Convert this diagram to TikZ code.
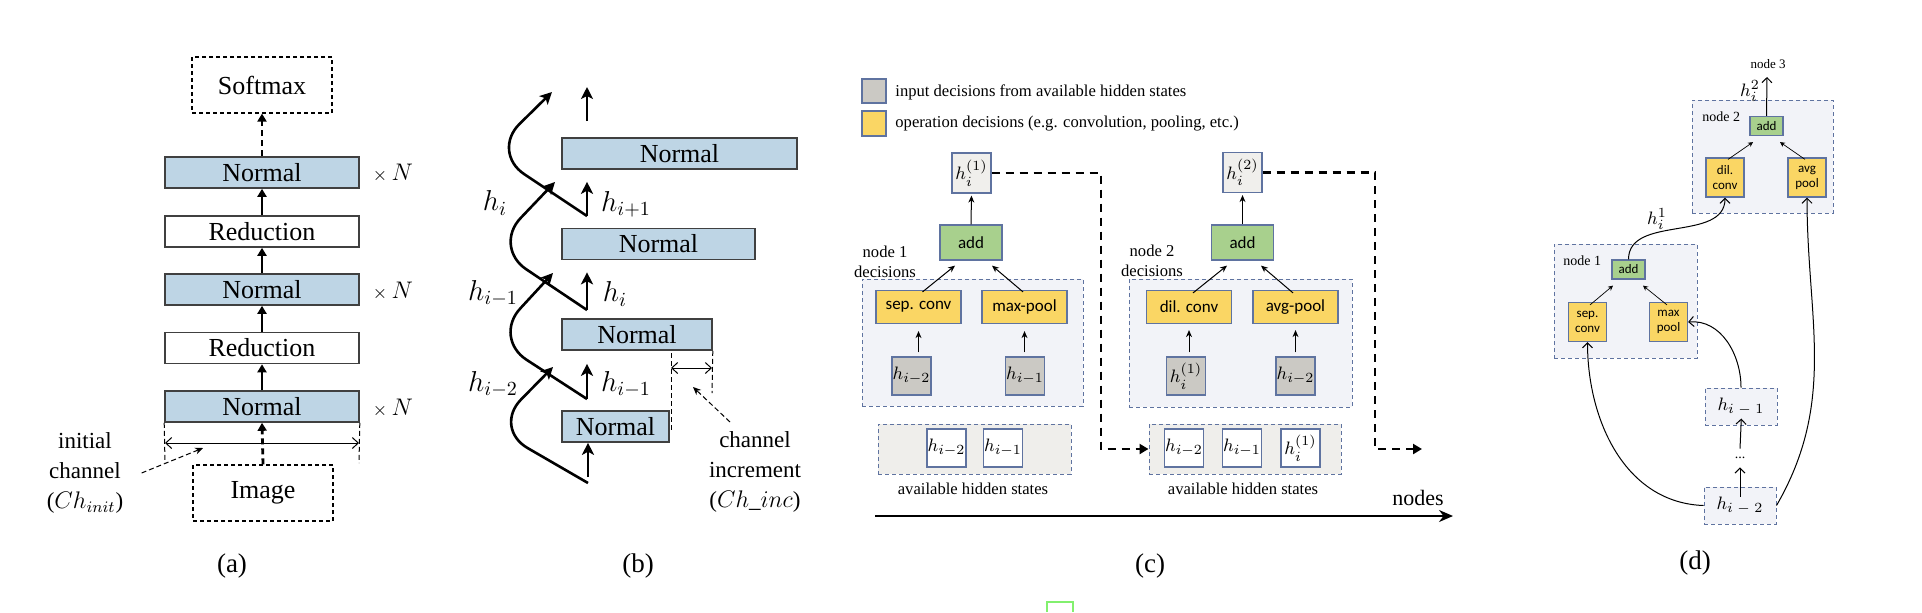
\documentclass[tikz,border=0pt]{standalone}
\usepackage{fontspec}
\setmainfont{Liberation Serif}
\newfontfamily\calib{Carlito}
\usetikzlibrary{arrows.meta}
\definecolor{normblue}{RGB}{190,213,229}
\definecolor{boxdark}{RGB}{64,64,64}
\definecolor{ylw}{RGB}{250,214,100}
\definecolor{grn}{RGB}{168,208,141}
\definecolor{gry}{RGB}{203,201,196}
\definecolor{bord}{RGB}{95,115,160}
\definecolor{panelc}{RGB}{242,243,248}
\definecolor{availc}{RGB}{239,238,235}
\definecolor{hboxc}{RGB}{240,239,236}
\definecolor{artgreen}{RGB}{130,240,110}
\begin{document}
\begin{tikzpicture}[x=0.5pt,y=-0.5pt,
  abox/.style={draw=boxdark, line width=0.8pt, inner sep=0pt, font=\fontsize{13}{15}\selectfont},
  normal/.style={abox, fill=normblue},
  reduc/.style={abox, fill=white},
  adash/.style={draw=black, line width=0.6pt, dash pattern=on 2pt off 1.5pt, inner sep=0pt, font=\fontsize{13}{15}\selectfont, minimum width=70pt, minimum height=28pt},
  tarr/.style={line width=1.4pt, -{Triangle[length=4pt,width=4.5pt]}},
  tdarr/.style={tarr, dash pattern=on 3pt off 2pt},
  dimarr/.style={line width=0.5pt, {Straight Barb[length=3pt,width=5.5pt]}-{Straight Barb[length=3pt,width=5.5pt]}},
  thdash/.style={line width=0.5pt, dash pattern=on 2.5pt off 1.5pt},
  smdasharr/.style={thdash, -{Stealth[length=4pt,width=3.5pt]}},
  side/.style={align=center, inner sep=0pt, font=\fontsize{11.5}{15}\selectfont},
  mathb/.style={inner sep=0pt, font=\fontsize{14}{16}\selectfont},
  bcurve/.style={line width=1.3pt, rounded corners=20pt, -{Stealth[length=6pt,width=6pt,inset=1.5pt]}},
  barr/.style={line width=1.3pt, -{Stealth[length=6pt,width=6pt,inset=1.5pt]}},
  cpanel/.style={draw=bord, fill=panelc, line width=0.5pt, dash pattern=on 2pt off 1.5pt, inner sep=0pt},
  cavail/.style={cpanel, fill=availc},
  cy/.style={draw=bord, fill=ylw, line width=0.6pt, inner sep=0pt, font=\calib\fontsize{8.5}{10}\selectfont, minimum width=42.5pt, minimum height=16.5pt},
  cg/.style={cy, fill=grn, minimum width=31pt, minimum height=17.5pt},
  cgray/.style={draw=bord, fill=gry, line width=0.6pt, inner sep=0pt, minimum width=19.5pt, minimum height=19pt, font=\fontsize{9.5}{10}\selectfont},
  cw/.style={cgray, fill=white},
  ch/.style={cgray, fill=hboxc, minimum height=20pt},
  carr/.style={line width=0.5pt, -{Stealth[length=3.5pt,width=3pt]}},
  cdash/.style={line width=1.1pt, dash pattern=on 4pt off 3pt, -{Triangle[length=4.5pt,width=5pt]}},
  stxt/.style={inner sep=0pt, font=\fontsize{8.3}{10}\selectfont},
  dy/.style={draw=bord, fill=ylw, line width=0.6pt, inner sep=0pt, align=center, font=\calib\fontsize{6.5}{7.5}\selectfont, minimum width=19pt, minimum height=19.5pt},
  dg/.style={dy, fill=grn, minimum width=16.5pt, minimum height=9.5pt},
  dh/.style={cpanel, minimum width=36pt, minimum height=18.5pt, font=\fontsize{9.5}{10}\selectfont},
  darr/.style={line width=0.5pt, -{Straight Barb[length=2.5pt,width=5pt]}},
  dsmall/.style={line width=0.35pt, -{Stealth[length=2.5pt,width=2.5pt]}},
  dtxt/.style={inner sep=0pt, font=\fontsize{7}{8}\selectfont},
  captxt/.style={inner sep=0pt, font=\fontsize{13.5}{15}\selectfont}
]
\useasboundingbox (0,0) rectangle (1922,612);

% ---------------- (a) ----------------
\node[adash] (asm) at (262,85) {Softmax};
\node[normal, minimum width=97pt, minimum height=15.5pt] (an1) at (262,172.5) {Normal};
\node[reduc, minimum width=97pt, minimum height=15.5pt] (ar1) at (262,231.5) {Reduction};
\node[normal, minimum width=97pt, minimum height=15.5pt] (an2) at (262,289.5) {Normal};
\node[reduc, minimum width=97pt, minimum height=15.5pt] (ar2) at (262,348) {Reduction};
\node[normal, minimum width=97pt, minimum height=15.5pt] (an3) at (262,406.5) {Normal};
\node[adash] (aimg) at (263,493) {Image};
\draw[tdarr] (an1.north) -- (asm.south);
\draw[tarr] (ar1.north) -- (an1.south);
\draw[tarr] (an2.north) -- (ar1.south);
\draw[tarr] (ar2.north) -- (an2.south);
\draw[tarr] (an3.north) -- (ar2.south);
\draw[tdarr] (aimg.north) -- (an3.south);
\node[mathb, font=\fontsize{13}{15}\selectfont] (ax1) at (393,173) {{\fontsize{9}{10}\selectfont$\times$}\,$N$};
\node[mathb, font=\fontsize{13}{15}\selectfont] (ax2) at (393,291) {{\fontsize{9}{10}\selectfont$\times$}\,$N$};
\node[mathb, font=\fontsize{13}{15}\selectfont] (ax3) at (393,408) {{\fontsize{9}{10}\selectfont$\times$}\,$N$};
\coordinate (ad1) at (165,463);
\coordinate (ad2) at (359,463);
\coordinate (aa1) at (165,443);
\coordinate (aa2) at (359,443);
\draw[thdash] (an3.south west) -- (ad1);
\draw[thdash] (an3.south east) -- (ad2);
\draw[dimarr] (aa1) -- (aa2);
\node[side] (ainit) at (85,473) {initial\\channel\\($Ch_{init}$)};
\coordinate (ap) at (203,448);
\draw[smdasharr] ([xshift=9pt]ainit.east) -- (ap);
\node[captxt] (capa) at (232,566) {(a)};

% ---------------- (b) ----------------
\node[normal, minimum width=117.5pt, minimum height=15.5pt] (bn1) at (679.5,153.5) {Normal};
\node[normal, minimum width=96.5pt, minimum height=15.5pt] (bn2) at (658.5,244) {Normal};
\node[normal, minimum width=75pt, minimum height=15.5pt] (bn3) at (637,334.5) {Normal};
\node[normal, minimum width=53.5pt, minimum height=15.5pt] (bn4) at (615.5,426.5) {Normal};
\coordinate (bs0) at (588,483);
\coordinate (bs1) at (587,399);
\coordinate (bs2) at (587,310);
\coordinate (bs3) at (587,216);
\coordinate (bt) at (587,121);
\coordinate (btop) at (587,87);
\coordinate (bv0) at (493,428);
\coordinate (bv1) at (493,338);
\coordinate (bv2) at (493,247);
\coordinate (bv3) at (491,152);
\coordinate (be0) at (553,367);
\coordinate (be1) at (553,273);
\coordinate (be2) at (555,182);
\coordinate (be3) at (552,92);
\draw[bcurve] (bs0) -- (bv0) -- (be0);
\draw[bcurve] (bs1) -- (bv1) -- (be1);
\draw[bcurve] (bs2) -- (bv2) -- (be2);
\draw[bcurve] (bs3) -- (bv3) -- (be3);
\draw[barr] ([yshift=3pt]bs0) -- (bs0 |- bn4.south);
\draw[barr] (bs1) -- ([yshift=-6.5pt]bs1 |- bn3.south);
\draw[barr] (bs2) -- ([yshift=-6pt]bs2 |- bn2.south);
\draw[barr] (bs3) -- ([yshift=-6pt]bs3 |- bn1.south);
\draw[barr] (bt) -- (btop);
\node[mathb] (bl1) at (495,203) {$h_i$};
\node[mathb] (bl2) at (493,293) {$h_{i-1}$};
\node[mathb] (bl3) at (493,384) {$h_{i-2}$};
\node[mathb] (br1) at (626,204) {$h_{i+1}$};
\node[mathb] (br2) at (615,294) {$h_i$};
\node[mathb] (br3) at (626,384) {$h_{i-1}$};
\coordinate (bd1a) at (671,353);
\coordinate (bd1b) at (671,430);
\coordinate (bd2) at (712,393);
\coordinate (bm1) at (671,368);
\coordinate (bm2) at (712,368);
\draw[thdash] (bd1a) -- (bd1b);
\draw[thdash] (bn3.south east) -- (bd2);
\draw[dimarr] (bm1) -- (bm2);
\node[side] (binc) at (755,472) {channel\\increment\\($Ch\_inc$)};
\coordinate (bpa) at (730,422);
\coordinate (bpb) at (693,387);
\draw[smdasharr] (bpa) -- (bpb);
\node[captxt] (capb) at (638,566) {(b)};

% ---------------- (c) ----------------
\node[cgray, minimum width=12pt, minimum height=12pt] (lg1) at (874,91) {};
\node[stxt, anchor=west] (lt1) at (895,92) {input decisions from available hidden states};
\node[cy, minimum width=12pt, minimum height=12.5pt] (lg2) at (874,123.5) {};
\node[stxt, anchor=west] (lt2) at (895,124) {operation decisions (e.g. convolution, pooling, etc.)};

\node[cpanel, minimum width=110.5pt, minimum height=63.5pt] (cp1) at (972.5,342.5) {};
\node[ch] (hc1) at (971.5,173) {$h_i^{(1)}$};
\node[cg] (add1) at (971,242.5) {add};
\node[cy] (sep) at (918.5,307) {sep. conv};
\node[cy] (maxp) at (1024.5,307) {max-pool};
\node[cgray] (g1) at (911.5,376) {$h_{i-2}$};
\node[cgray] (g2) at (1025,376) {$h_{i-1}$};
\draw[carr, shorten <=2pt, shorten >=3.5pt] (g1.north -| sep.south) -- (sep.south);
\draw[carr, shorten <=2pt, shorten >=3.5pt] (g2.north -| maxp.south) -- (maxp.south);
\draw[carr] ([xshift=2pt,yshift=-1pt]sep.north) -- ([xshift=-8pt,yshift=-2.5pt]add1.south);
\draw[carr] ([xshift=-0.75pt,yshift=-1pt]maxp.north) -- ([xshift=10.5pt,yshift=-2.5pt]add1.south);
\draw[carr, shorten >=1pt] (add1.north) -- (hc1.south);
\node[stxt, align=center] (n1d) at (885,262) {node 1\\decisions};
\node[cavail, minimum width=96.5pt, minimum height=25pt] (av1) at (974.5,449) {};
\node[cw] (w1) at (946.5,448) {$h_{i-2}$};
\node[cw] (w2) at (1003,448) {$h_{i-1}$};
\node[stxt] (avt1) at (973,489) {available hidden states};

\node[cpanel, minimum width=111.5pt, minimum height=64pt] (cp2) at (1240.5,343) {};
\node[ch] (hc2) at (1242.5,172.5) {$h_i^{(2)}$};
\node[cg] (add2) at (1242.5,242.5) {add};
\node[cy] (dil) at (1189,307) {dil. conv};
\node[cy] (avgp) at (1295.5,307) {avg-pool};
\node[cgray] (g3) at (1186,376) {$h_i^{(1)}$};
\node[cgray] (g4) at (1295.5,376) {$h_{i-2}$};
\draw[carr, shorten <=2pt, shorten >=3pt] (g3.north -| dil.south) -- (dil.south);
\draw[carr, shorten <=2pt, shorten >=3pt] (g4.north -| avgp.south) -- (avgp.south);
\draw[carr] ([xshift=2pt,yshift=-1.5pt]dil.north) -- ([xshift=-7.75pt,yshift=-2.5pt]add2.south);
\draw[carr] ([xshift=-1.25pt,yshift=-1.5pt]avgp.north) -- ([xshift=9.25pt,yshift=-2.5pt]add2.south);
\draw[carr, shorten >=1pt] (add2.north) -- (hc2.south);
\node[stxt, align=center] (n2d) at (1152,261) {node 2\\decisions};
\node[cavail, minimum width=96pt, minimum height=25pt] (av2) at (1245,449) {};
\node[cw] (w3) at (1184,448) {$h_{i-2}$};
\node[cw] (w4) at (1242,448) {$h_{i-1}$};
\node[cw] (w5) at (1300.5,448) {$h_i^{(1)}$};
\node[stxt] (avt2) at (1243,489) {available hidden states};

\coordinate (k1) at (1101,449);
\draw[cdash] (hc1.east) -| (k1) -- (av2.west);
\coordinate (k2) at (1375,449);
\coordinate (k3) at (1422,449);
\draw[cdash] (hc2.east) -| (k2) -- (k3);
\coordinate (ax0) at (875,516);
\coordinate (axe) at (1453,516);
\draw[line width=1pt, -{Stealth[length=7pt,width=6pt]}] (ax0) -- (axe);
\node[inner sep=0pt, font=\fontsize{11}{13}\selectfont] (nodes) at (1418,498) {nodes};
\node[captxt] (capc) at (1150,566) {(c)};

% ---------------- (d) ----------------
\node[cpanel, minimum width=70.5pt, minimum height=56.5pt] (dp2) at (1762.5,156.5) {};
\node[dtxt, anchor=west] (dn2) at (1702,117) {node 2};
\node[dg] (dadd2) at (1766.5,126) {add};
\node[dy] (ddil) at (1725,177.5) {dil.\\conv};
\node[dy] (davg) at (1807,177.5) {avg\\pool};
\draw[dsmall] ([xshift=1.5pt,yshift=-1pt]ddil.north) -- ([xshift=-6.75pt,yshift=-3pt]dadd2.south);
\draw[dsmall] ([xshift=-1pt,yshift=-1pt]davg.north) -- ([xshift=6.75pt,yshift=-3pt]dadd2.south);
\coordinate (n3) at (1767,77);
\draw[darr] (dadd2.north) -- (n3);
\node[dtxt, font=\fontsize{6.5}{8}\selectfont] (dn3) at (1768,64) {node 3};
\node[inner sep=0pt, font=\fontsize{9.5}{11}\selectfont] (dhi2) at (1750,91) {$h_i^2$};

\node[cpanel, minimum width=71.5pt, minimum height=57pt] (dp1) at (1625.5,301) {};
\node[dtxt, anchor=west] (dn1) at (1563,261) {node 1};
\node[dg] (dadd1) at (1628.5,269.5) {add};
\node[dy] (dsep) at (1587.5,322) {sep.\\conv};
\node[dy] (dmax) at (1668.5,322) {max\\pool};
\draw[dsmall] ([xshift=1.25pt,yshift=-1.5pt]dsep.north) -- ([xshift=-7.75pt,yshift=-3pt]dadd1.south);
\draw[dsmall] ([xshift=-0.75pt,yshift=-1.5pt]dmax.north) -- ([xshift=7.25pt,yshift=-3pt]dadd1.south);
\draw[darr] (dadd1.north) to[out=90,in=-90] (ddil.south);
\node[inner sep=0pt, font=\fontsize{9.5}{11}\selectfont] (dhi1) at (1657,219) {$h_i^1$};

\node[dh] (dh1) at (1741,406.5) {$h_{i\;-\;1}$};
\node[dh] (dh2) at (1740,505.5) {$h_{i\;-\;2}$};
\node[inner sep=0pt, minimum height=9pt, font=\fontsize{7}{8}\selectfont] (ddots) at (1740,458) {...};
\draw[darr, shorten <=-5pt] (dh2.north) -- (ddots.south);
\draw[darr, shorten >=-3.5pt] (ddots.north) -- (dh1.south);
\draw[darr] (dh1.north) to[out=90,in=5] (dmax.east);
\draw[darr] (dh2.west) to[out=178,in=-90] (dsep.south);
\draw[darr] (dh2.east) to[out=60,in=-90] (davg.south);
\node[captxt] (capd) at (1695,563) {(d)};

% small artifact frame
\draw[artgreen, line width=0.8pt] (1047,612) -- (1047,602) -- (1073,602) -- (1073,612);
\end{tikzpicture}
\end{document}
